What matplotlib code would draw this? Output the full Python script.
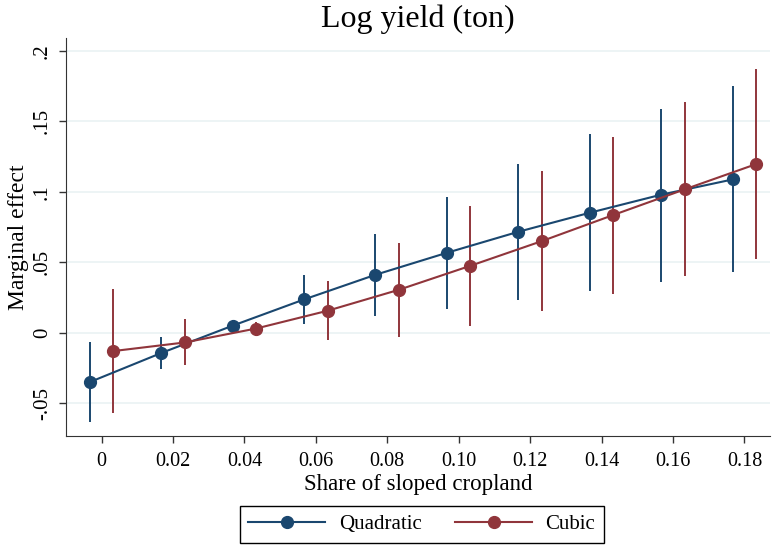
import matplotlib.pyplot as plt
from matplotlib.lines import Line2D

'''
marginal effect of sloped cropland share on log yield,
quadratic vs cubic specification (stata-style look)
'''

share = [0.00, 0.02, 0.04, 0.06, 0.08, 0.10, 0.12, 0.14, 0.16, 0.18]
share_labels = ['0', '0.02', '0.04', '0.06', '0.08', '0.10', '0.12', '0.14', '0.16', '0.18']

quad_me = [-0.035, -0.0144, 0.005, 0.0236, 0.0411, 0.0567, 0.0716, 0.0851, 0.0979, 0.1087]
quad_lo = [-0.0636, -0.0258, 0.003, 0.0062, 0.0116, 0.017, 0.0229, 0.0293, 0.036, 0.0428]
quad_hi = [-0.0066, -0.003, 0.007, 0.0406, 0.0697, 0.0965, 0.1199, 0.1409, 0.159, 0.175]

cub_me = [-0.013, -0.0069, 0.003, 0.0156, 0.0305, 0.0475, 0.065, 0.0835, 0.1017, 0.1196]
cub_lo = [-0.057, -0.0229, -0.0016, -0.0052, -0.0028, 0.0045, 0.0154, 0.0277, 0.0402, 0.0523]
cub_hi = [0.0312, 0.0097, 0.0076, 0.0369, 0.0638, 0.0898, 0.1147, 0.139, 0.1633, 0.187]

yticks = [-0.05, 0, 0.05, 0.1, 0.15, 0.2]
ytick_labels = ['-.05', '0', '.05', '.1', '.15', '.2']

NAVY = '#1a476f'
MAROON = '#90353b'
offset = 0.0033

plt.rcParams['font.family'] = ['Liberation Serif', 'DejaVu Serif']


def draw_series(ax, xs, me, lo, hi, color):
    err = [[m - l for m, l in zip(me, lo)], [h - m for m, h in zip(me, hi)]]
    ax.errorbar(xs, me, yerr=err, fmt='-o', color=color, ecolor=color,
                elinewidth=1.4, capsize=0, lw=1.5, ms=8.5)
    return Line2D([], [], color=color, lw=1.5, marker='o', ms=8.5)


def main():
    fig = plt.figure(figsize=(7.74, 5.47), dpi=100)
    ax = fig.add_axes([0.085, 0.2035, 0.91, 0.727])

    hq = draw_series(ax, [s - offset for s in share], quad_me, quad_lo, quad_hi, NAVY)
    hc = draw_series(ax, [s + offset for s in share], cub_me, cub_lo, cub_hi, MAROON)

    ax.set_xlim(-0.01, 0.1872)
    ax.set_ylim(-0.073, 0.209)
    ax.set_xticks(share)
    ax.set_xticklabels(share_labels, fontsize=14.5)
    ax.set_yticks(yticks)
    ax.set_yticklabels(ytick_labels, fontsize=15, rotation=90, va='center')
    ax.tick_params(length=5, width=1, color='#333333')
    ax.tick_params(axis='x', pad=7)
    ax.tick_params(axis='y', pad=5)
    ax.grid(axis='y', color='#eaf2f3', lw=1.2)
    ax.set_axisbelow(True)
    for side in ['top', 'right']:
        ax.spines[side].set_visible(False)
    for side in ['left', 'bottom']:
        ax.spines[side].set_color('#333333')

    ax.set_title('Log yield (ton)', fontsize=23, pad=8)
    ax.set_xlabel('Share of sloped cropland', fontsize=16.5, labelpad=2)
    ax.set_ylabel('Marginal effect', fontsize=17, labelpad=3)

    leg = fig.legend([hq, hc], ['Quadratic', 'Cubic'], loc='center',
                     bbox_to_anchor=(0.545, 0.041), ncol=2, fontsize=15,
                     handlelength=3.7, handletextpad=0.65, columnspacing=1.6,
                     fancybox=False, edgecolor='black', framealpha=1)
    leg.get_frame().set_linewidth(1)

    fig.savefig('out.png', dpi=100)


if __name__ == '__main__':
    main()
